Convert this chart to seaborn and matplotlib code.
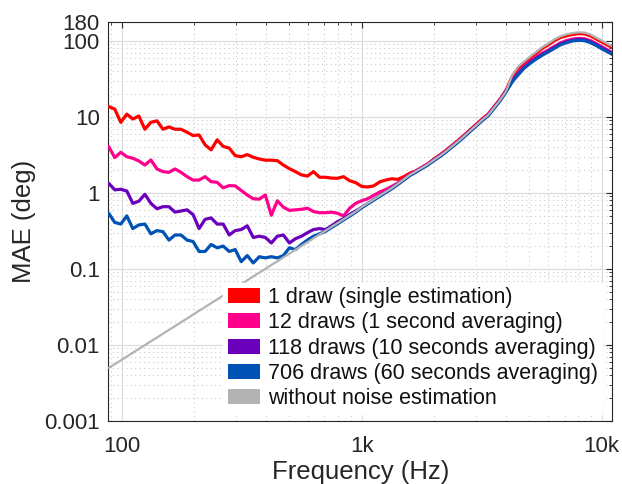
import numpy as np
import pandas as pd
import matplotlib
matplotlib.use("Agg")
import matplotlib.pyplot as plt
import matplotlib.patches as mpatches
from matplotlib.ticker import LogLocator, NullFormatter, FixedLocator, FixedFormatter
import seaborn as sns

# ---------------- data ----------------
freq_hz = [88.39, 93.64, 99.21, 105.11, 111.36, 117.98, 125.0, 132.43, 140.31, 148.65,
           157.49, 166.86, 176.78, 187.29, 198.43, 210.22, 222.72, 235.97, 250.0, 264.87,
           280.62, 297.30, 314.98, 333.71, 353.55, 374.58, 396.85, 420.45, 445.45, 471.94,
           500.0, 529.73, 561.23, 594.60, 629.96, 667.42, 707.11, 749.15, 793.70, 840.90,
           890.90, 943.87, 1000.0, 1059.46, 1122.46, 1189.21, 1259.92, 1334.84, 1414.21, 1498.31,
           1587.40, 1681.79, 1781.80, 1887.75, 2000.0, 2118.93, 2244.92, 2378.41, 2519.84, 2669.68,
           2828.43, 2996.61, 3174.80, 3363.59, 3563.59, 3775.50, 4000.0, 4237.85, 4489.85, 4756.83,
           5039.68, 5339.36, 5656.85, 5993.23, 6349.60, 6727.17, 7127.19, 7551.0, 8000.0, 8475.7,
           8979.7, 9513.7, 10079.4, 10678.7, 11313.7]

mae_1_draw = [13.7, 12.7, 8.5, 10.9, 9.4, 10.3, 6.9, 8.5, 8.9, 6.9,
              7.4, 6.9, 6.9, 6.3, 5.7, 5.8, 4.3, 3.7, 5.0, 4.1,
              3.9, 3.1, 3.0, 3.2, 2.95, 2.8, 2.7, 2.7, 2.66, 2.33,
              2.09, 1.91, 1.73, 1.67, 1.91, 1.61, 1.61, 1.57, 1.56, 1.64,
              1.45, 1.37, 1.22, 1.20, 1.24, 1.40, 1.48, 1.54, 1.51, 1.64,
              1.82, 1.95, 2.18, 2.42, 2.80, 3.17, 3.64, 4.22, 4.90, 5.75,
              6.78, 7.96, 9.39, 10.9, 13.7, 17.2, 22.7, 34.0, 44.0, 52.0,
              60.0, 69.0, 80.0, 89.0, 101.0, 111.0, 117.0, 122.0, 125.0, 124.0,
              117.0, 106.0, 96.0, 87.0, 80.0]

mae_12_draws = [4.07, 2.92, 3.43, 3.0, 2.86, 2.64, 2.33, 2.72, 2.07, 1.91,
                1.87, 2.07, 1.87, 1.64, 1.48, 1.48, 1.64, 1.41, 1.38, 1.17,
                1.25, 1.24, 1.08, 0.94, 0.84, 0.83, 0.94, 0.51, 0.79, 0.65,
                0.59, 0.60, 0.61, 0.63, 0.57, 0.55, 0.55, 0.56, 0.54, 0.50,
                0.63, 0.73, 0.79, 0.84, 0.93, 1.03, 1.11, 1.22, 1.35, 1.53,
                1.75, 1.94, 2.16, 2.41, 2.75, 3.11, 3.57, 4.14, 4.81, 5.64,
                6.65, 7.81, 9.21, 10.7, 13.4, 16.9, 22.2, 30.7, 38.0, 46.6,
                54.0, 61.5, 69.0, 76.0, 85.0, 94.0, 101.0, 106.0, 108.0, 107.0,
                101.0, 92.0, 83.0, 75.0, 68.0]

mae_118_draws = [1.34, 1.10, 1.12, 1.06, 0.73, 0.78, 0.96, 0.73, 0.62, 0.66,
                 0.66, 0.56, 0.58, 0.60, 0.52, 0.34, 0.45, 0.47, 0.39, 0.39,
                 0.28, 0.32, 0.33, 0.37, 0.26, 0.27, 0.26, 0.22, 0.27, 0.28,
                 0.22, 0.25, 0.27, 0.30, 0.33, 0.34, 0.33, 0.37, 0.42, 0.46,
                 0.52, 0.58, 0.646, 0.726, 0.814, 0.914, 1.025, 1.15, 1.31, 1.49,
                 1.71, 1.90, 2.12, 2.37, 2.69, 3.05, 3.49, 4.06, 4.71, 5.52,
                 6.51, 7.65, 9.03, 10.5, 13.2, 16.5, 21.8, 29.6, 36.7, 44.9,
                 52.0, 59.0, 66.3, 73.4, 81.6, 90.8, 97.0, 102.0, 104.0, 103.0,
                 97.0, 88.7, 79.6, 72.4, 65.3]

mae_706_draws = [0.54, 0.41, 0.39, 0.50, 0.34, 0.38, 0.39, 0.29, 0.32, 0.31,
                 0.24, 0.28, 0.28, 0.24, 0.23, 0.17, 0.17, 0.21, 0.19, 0.20,
                 0.17, 0.18, 0.125, 0.15, 0.12, 0.145, 0.14, 0.145, 0.14, 0.15,
                 0.19, 0.18, 0.21, 0.24, 0.27, 0.29, 0.313, 0.351, 0.394, 0.442,
                 0.497, 0.558, 0.640, 0.718, 0.806, 0.905, 1.014, 1.137, 1.29, 1.48,
                 1.70, 1.88, 2.10, 2.34, 2.67, 3.02, 3.46, 4.02, 4.66, 5.47,
                 6.45, 7.58, 8.94, 10.4, 13.0, 16.4, 21.6, 29.0, 36.0, 44.0,
                 51.0, 58.0, 65.0, 72.0, 80.0, 89.0, 95.0, 100.0, 102.0, 101.0,
                 95.0, 87.0, 78.0, 71.0, 64.0]

mae_no_noise = [0.0050, 0.00559, 0.00627, 0.00704, 0.0079, 0.00887, 0.00995, 0.0112, 0.0125, 0.0141,
                0.0158, 0.0177, 0.0199, 0.0223, 0.0251, 0.0282, 0.0316, 0.0355, 0.0398, 0.0447,
                0.0502, 0.0563, 0.0632, 0.071, 0.0797, 0.0895, 0.100, 0.113, 0.126, 0.142,
                0.159, 0.179, 0.201, 0.225, 0.253, 0.284, 0.319, 0.358, 0.402, 0.451,
                0.507, 0.569, 0.653, 0.733, 0.822, 0.923, 1.035, 1.16, 1.32, 1.51,
                1.73, 1.92, 2.14, 2.39, 2.72, 3.08, 3.53, 4.10, 4.76, 5.58,
                6.58, 7.73, 9.12, 10.6, 13.3, 16.7, 22.0, 35.5, 46.0, 54.0,
                62.5, 72.0, 83.0, 92.5, 105.0, 115.0, 122.0, 127.0, 130.0, 129.0,
                122.0, 110.0, 100.0, 90.5, 83.0]

series_labels = ["1 draw (single estimation)",
                 "12 draws (1 second averaging)",
                 "118 draws (10 seconds averaging)",
                 "706 draws (60 seconds averaging)",
                 "without noise estimation"]
series_values = [mae_1_draw, mae_12_draws, mae_118_draws, mae_706_draws, mae_no_noise]
series_colors = ["#ff0000", "#ff008c", "#6a00bb", "#0052b4", "#b3b3b3"]
series_widths = [2.3, 2.3, 2.3, 2.3, 1.6]

y_ticks = [0.001, 0.01, 0.1, 1, 10, 100, 180]
y_ticklabels = ["0.001", "0.01", "0.1", "1", "10", "100", "180"]
x_ticks = [100, 1000, 10000]
x_ticklabels = ["100", "1k", "10k"]

# ---------------- style ----------------
sns.set_style("white")
plt.rcParams["font.family"] = ["Liberation Sans", "DejaVu Sans"]
txt = "#262626"

fig = plt.figure(figsize=(6.22, 4.84), dpi=100)
ax = fig.add_axes([0.1741, 0.1302, 0.8103, 0.8252])

for lab, vals, col, lw in zip(series_labels, series_values, series_colors, series_widths):
    df = pd.DataFrame({"freq": freq_hz, "mae": vals})
    sns.lineplot(data=df, x="freq", y="mae", color=col, linewidth=lw, ax=ax,
                 sort=False, legend=False, zorder=3)

ax.set_xscale("log")
ax.set_yscale("log")
ax.set_xlim(88.0, 11070)
ax.set_ylim(0.001, 180)

ax.xaxis.set_major_locator(FixedLocator(x_ticks))
ax.xaxis.set_major_formatter(FixedFormatter(x_ticklabels))
ax.xaxis.set_minor_locator(LogLocator(base=10, subs=np.arange(2, 10)))
ax.xaxis.set_minor_formatter(NullFormatter())
ax.yaxis.set_major_locator(FixedLocator(y_ticks))
ax.yaxis.set_major_formatter(FixedFormatter(y_ticklabels))
ax.yaxis.set_minor_locator(LogLocator(base=10, subs=np.arange(2, 10)))
ax.yaxis.set_minor_formatter(NullFormatter())

ax.grid(which="major", color="#dddddd", linewidth=0.9, linestyle="-", zorder=0)
ax.grid(which="minor", color="#cccccc", linewidth=0.8, linestyle=(0, (1, 3)), zorder=0)
ax.set_axisbelow(True)

for s in ax.spines.values():
    s.set_visible(True)
    s.set_color(txt)
    s.set_linewidth(0.8)

ax.tick_params(which="both", direction="in", top=True, right=True, colors=txt,
               labelcolor=txt, labelsize=16)
ax.tick_params(which="major", length=4, width=0.8)
ax.tick_params(which="minor", length=2.5, width=0.6)
ax.tick_params(axis="x", which="major", pad=11)
ax.tick_params(axis="y", which="major", pad=6)

ax.set_xlabel("Frequency (Hz)", fontsize=18.5, color=txt, labelpad=2)
ax.set_ylabel("MAE (deg)", fontsize=18.5, color=txt, labelpad=6)

handles = [mpatches.Patch(facecolor=c, edgecolor="none") for c in series_colors]
leg = ax.legend(handles, series_labels, loc="upper left",
                bbox_to_anchor=(0.228, 0.346), borderaxespad=0,
                fontsize=15.5, frameon=True, fancybox=False, framealpha=1,
                facecolor="white", edgecolor="white", borderpad=0.2,
                handlelength=1.5, handleheight=0.7, handletextpad=0.38,
                labelspacing=0.2)
leg.set_zorder(5)
for t in leg.get_texts():
    t.set_color("#111111")

fig.savefig("out.png", dpi=100)
